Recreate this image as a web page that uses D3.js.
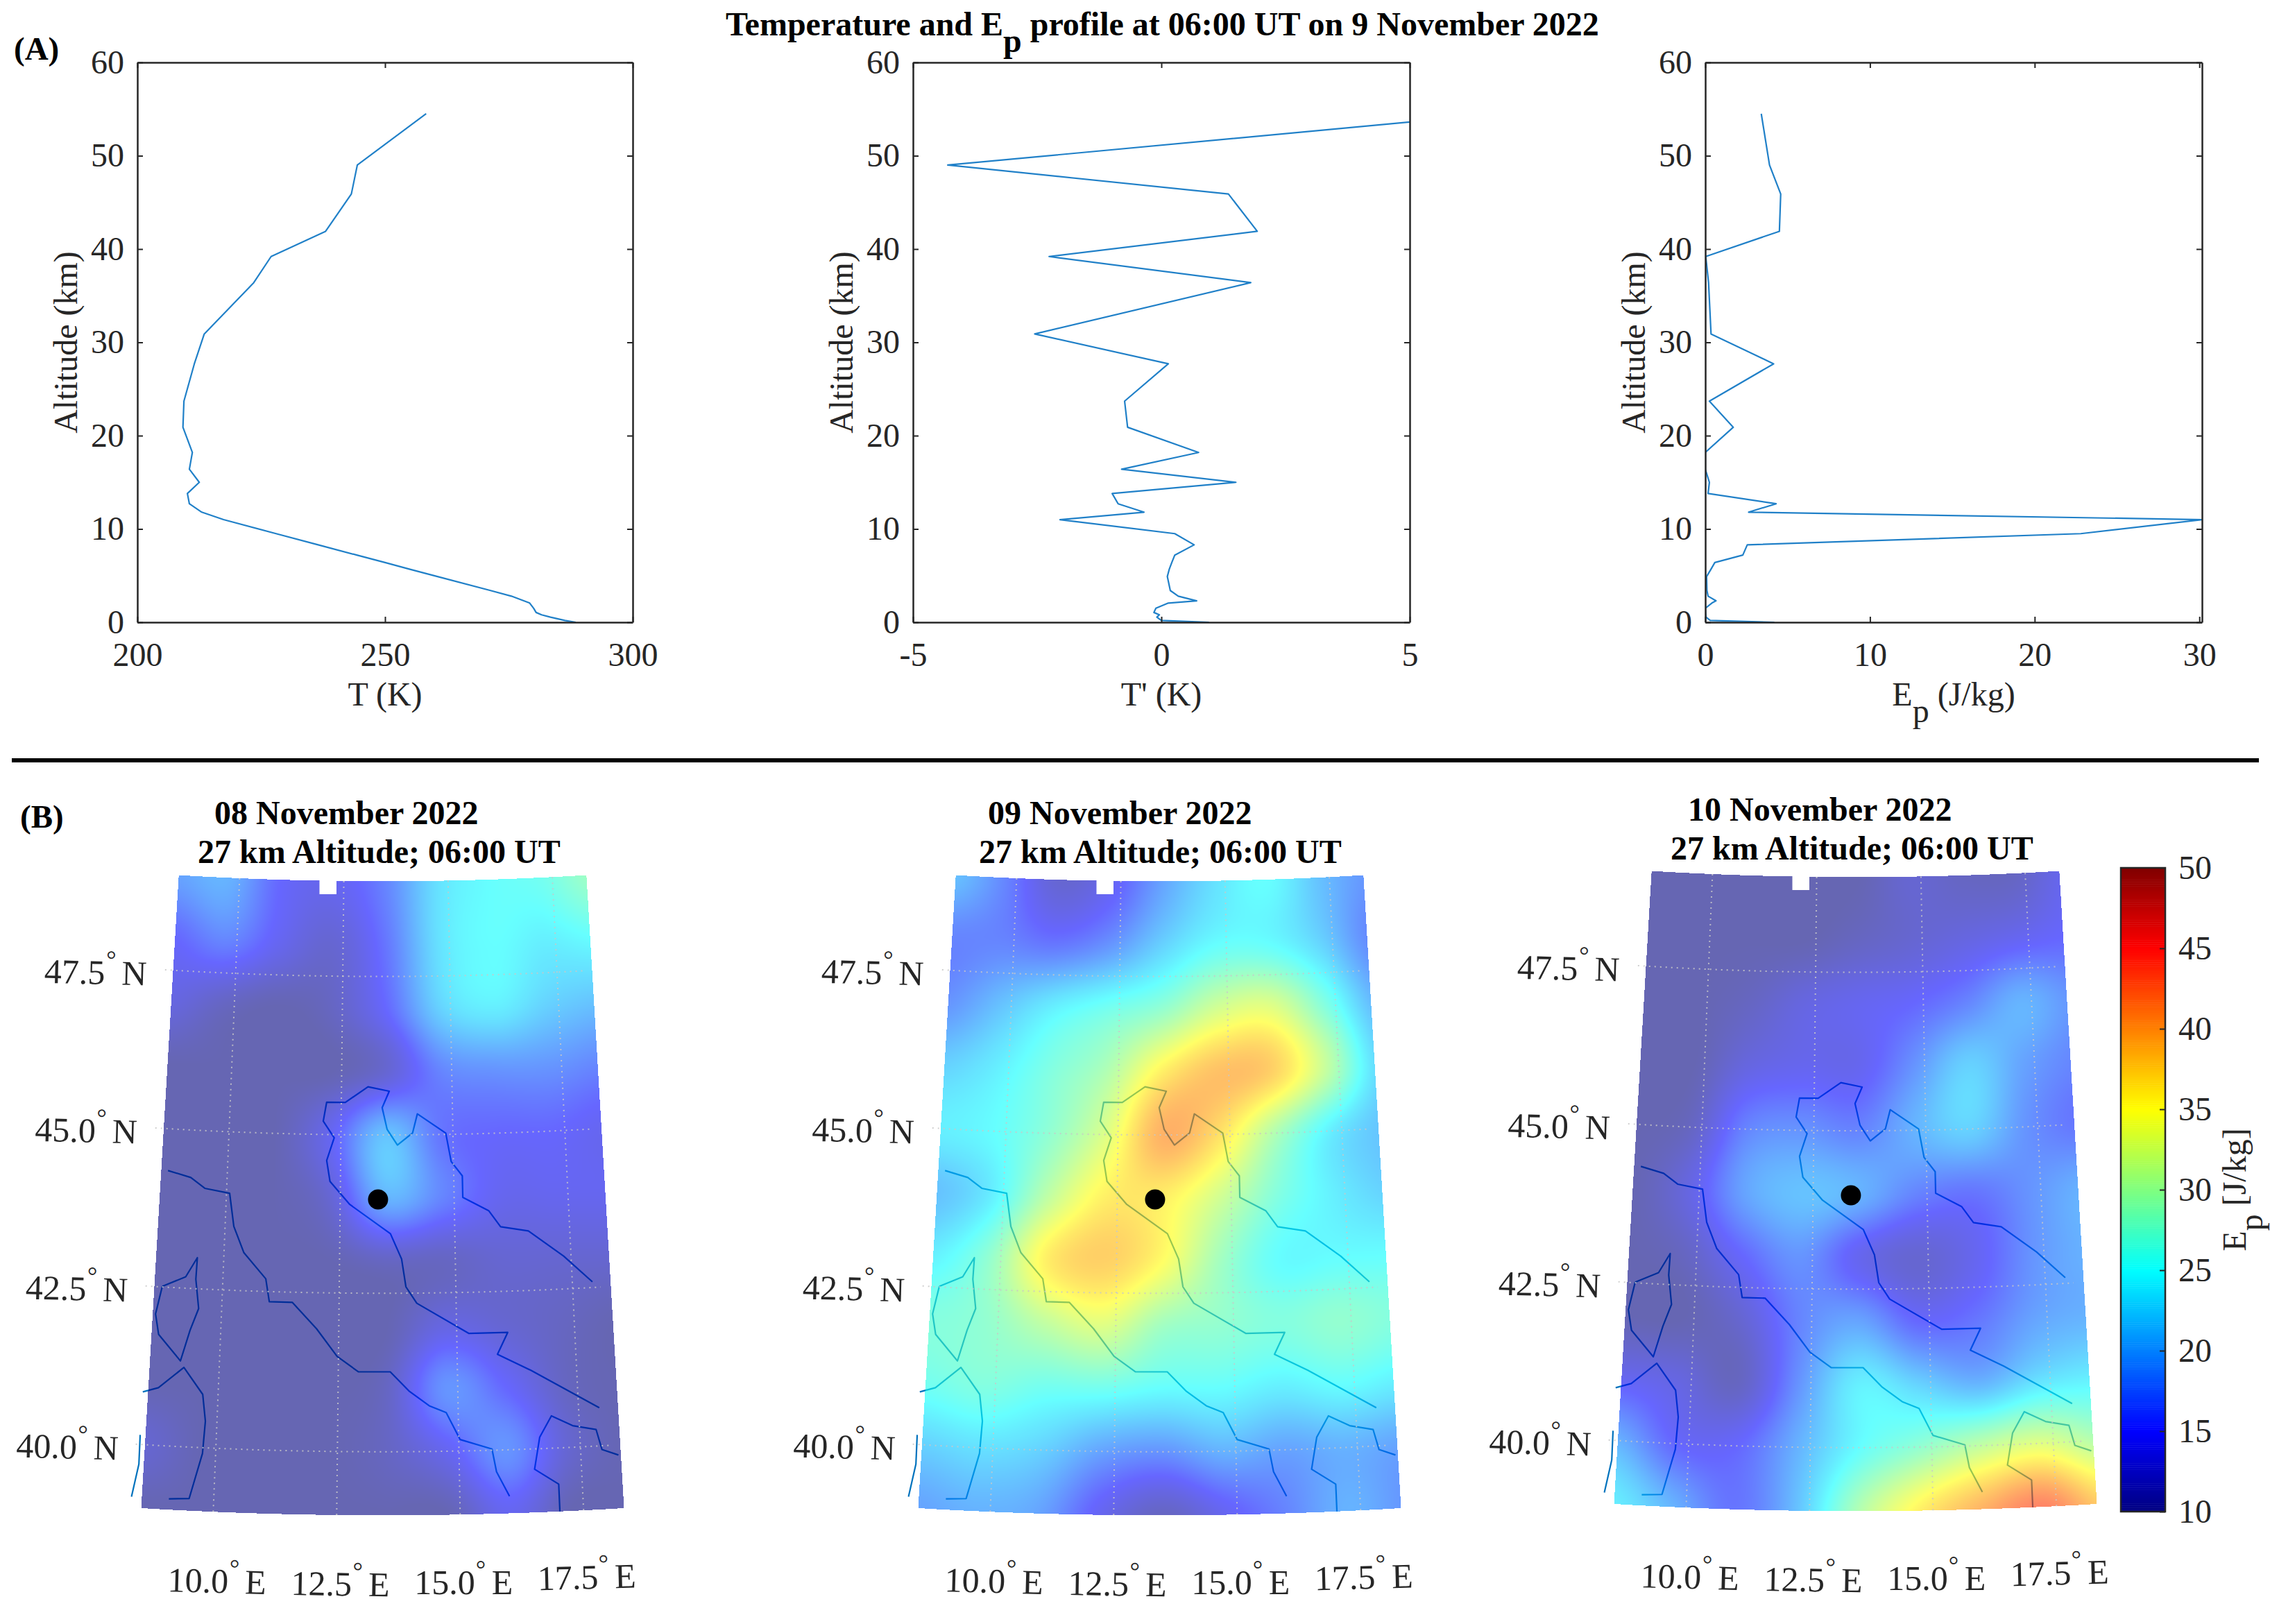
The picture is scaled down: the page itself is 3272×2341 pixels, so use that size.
<!DOCTYPE html>
<html>
<head>
<meta charset="utf-8">
<script src="https://cdn.jsdelivr.net/npm/d3@7"></script>
<style>
  body { margin: 0; background: #fff; }
  text { font-family: "Liberation Serif", serif; fill: #262626; }
</style>
</head>
<body>
<div id="chart"></div>
<script>
// profile data, all three panels share the altitude levels
var altitude = [0, 0.2, 0.55, 0.8, 1.05, 1.5, 2.06, 2.3, 2.8, 3.4, 4.9, 5.7, 6.4, 7.2, 8.3, 9.5, 11, 11.8, 12.7, 13.8, 15, 16.4, 18.2, 20.9, 23.7, 27.7, 30.9, 36.4, 39.2, 41.9, 45.9, 49, 54.5];
var temperature = [288.5, 286.3, 283.4, 281.6, 280.5, 280, 279.2, 278, 275.5, 271.3, 260.6, 254.9, 250, 244.3, 236.5, 228, 217.4, 213, 210.5, 210.1, 212.5, 210.5, 211.1, 209.2, 209.4, 211.5, 213.5, 223.5, 227, 238, 243.2, 244.4, 258.3];
var tPrime = [0.96, 0, -0.09, -0.04, -0.15, -0.11, 0.14, 0.71, 0.34, 0.18, 0.12, 0.16, 0.21, 0.27, 0.66, 0.27, -2.04, -0.35, -0.87, -0.99, 1.5, -0.8, 0.75, -0.68, -0.74, 0.14, -2.55, 1.8, -2.26, 1.93, 1.35, -4.3, 6.8];
var epProfile = [4.2, 0.3, 0.05, 0.03, 0.02, 0, 0.4, 0.65, 0.17, 0.1, 0.08, 0.35, 0.58, 2.28, 2.55, 22.8, 30.2, 2.63, 4.3, 0.17, 0.25, 0, 0, 1.7, 0.25, 4.15, 0.35, 0.2, 0.03, 4.5, 4.58, 3.9, 3.4];

var altTicks = [0, 10, 20, 30, 40, 50, 60];
var tTicks = [200, 250, 300];
var tPrimeTicks = [-5, 0, 5];
var epTicks = [0, 10, 20, 30];
var cbarTicks = [10, 15, 20, 25, 30, 35, 40, 45, 50];

// Ep maps at 27 km, rows go from 49N to 39N, columns from 8.5E to 18.5E
var gridLons = [8.5, 9.75, 11, 12.25, 13.5, 14.75, 16, 17.25, 18.5];
var gridLats = [49, 48, 47, 46, 45, 44, 43, 42, 41, 40, 39];
var ep08 = [
  [19, 20, 15, 14, 17, 23, 25, 26, 29],
  [15, 17, 14, 12, 16, 23, 25, 24, 25],
  [13, 11, 10, 11, 15, 22, 24, 22, 21],
  [10, 10, 10, 10, 12, 17, 18, 18, 17],
  [10, 10, 10, 14, 21, 16, 15, 15, 14],
  [10, 10, 10, 12, 20, 17, 14, 14, 14],
  [10, 10, 10, 10, 11, 11, 12, 12, 12],
  [10, 10, 10, 10, 10, 13, 12, 11, 10],
  [10, 10, 10, 10, 11, 18, 15, 11, 10],
  [12, 10, 10, 10, 11, 14, 18, 12, 10],
  [10, 10, 10, 10, 10, 10, 14, 10, 10]
];
var ep09 = [
  [21, 17, 12, 14, 19, 23, 25, 21, 18],
  [17, 17, 16, 18, 22, 25, 25, 22, 17],
  [18, 21, 24, 26, 28, 32, 33, 27, 20],
  [22, 24, 27, 30, 36, 39, 38, 31, 22],
  [24, 25, 28, 33, 40, 37, 30, 24, 21],
  [21, 24, 31, 36, 36, 32, 27, 24, 22],
  [24, 28, 36, 38, 35, 29, 25, 25, 25],
  [27, 28, 31, 33, 29, 28, 27, 28, 27],
  [26, 27, 26, 26, 25, 25, 24, 25, 24],
  [22, 23, 22, 19, 18, 20, 19, 20, 19],
  [19, 20, 19, 14, 11, 14, 17, 20, 18]
];
var ep10 = [
  [10, 10, 10, 10, 10, 12, 11, 11, 14],
  [10, 10, 10, 10, 11, 12, 13, 14, 15],
  [10, 10, 11, 13, 14, 15, 17, 20, 18],
  [10, 10, 13, 14, 14, 18, 22, 19, 17],
  [10, 11, 17, 18, 17, 20, 22, 18, 16],
  [10, 13, 19, 21, 20, 17, 16, 18, 20],
  [10, 11, 15, 18, 14, 12, 14, 18, 20],
  [10, 10, 12, 17, 19, 15, 16, 19, 20],
  [14, 13, 11, 18, 24, 22, 20, 23, 24],
  [20, 15, 15, 20, 25, 28, 31, 33, 30],
  [24, 20, 16, 21, 30, 36, 40, 43, 38]
];

// coastlines as lon, lat
var coastWest = [[8.69, 44.34], [9.2, 44.25], [9.52, 44.09], [10.07, 44.03], [10.19, 43.51], [10.43, 43.1], [10.92, 42.7], [11.01, 42.34], [11.5, 42.34], [12.03, 41.93], [12.47, 41.5], [12.92, 41.26], [13.59, 41.26], [13.99, 40.95], [14.4, 40.72], [14.75, 40.61], [15.03, 40.18], [15.68, 40.02], [15.76, 39.66], [16.01, 39.27]];
var coastAdriatic = [[17.93, 42.59], [17.34, 43.02], [16.6, 43.44], [16, 43.52], [15.75, 43.78], [15.19, 44], [15.19, 44.34], [14.95, 44.57], [14.84, 45.02], [14.21, 45.33], [14.1, 45.03], [13.76, 44.84], [13.53, 45.09], [13.42, 45.43], [13.58, 45.69], [13.1, 45.76], [12.59, 45.51], [12.17, 45.51], [12.1, 45.21], [12.35, 44.95], [12.19, 44.59], [12.27, 44.26], [12.71, 43.9], [13.6, 43.44], [13.84, 43.04], [13.93, 42.6], [14.16, 42.34], [15.26, 41.85], [16.08, 41.85], [15.85, 41.51], [16.54, 41.24], [17.93, 40.6]];
var corsica = [[8.71, 42.51], [9.2, 42.68], [9.43, 42.99], [9.42, 42.65], [9.51, 42.19], [9.35, 41.84], [9.18, 41.35], [8.69, 41.75], [8.6, 42.07], [8.71, 42.51]];
var sardinia = [[8.43, 40.83], [8.75, 40.91], [9.26, 41.25], [9.68, 40.84], [9.76, 40.42], [9.73, 39.91], [9.5, 39.19], [9.09, 39.17]];
var westSliver = [[8.43, 40.15], [8.44, 39.69], [8.33, 39.17]];
var coastSouth = [[17.02, 39], [17.02, 39.43], [16.54, 39.68], [16.67, 40.18], [16.93, 40.51], [17.36, 40.34], [17.84, 40.26], [17.94, 39.94], [18.27, 39.84]];
var coasts = [coastWest, coastAdriatic, corsica, sardinia, westSliver, coastSouth];

var site = [13.33, 43.98];
var gridLonLines = [10, 12.5, 15, 17.5];
var gridLatLines = [47.5, 45, 42.5, 40];

var mapTitles = ["08 November 2022", "09 November 2022", "10 November 2022"];
var mapSub = "27 km Altitude; 06:00 UT";
var mapData = [ep08, ep09, ep10];

var W = 3272, H = 2341;
var ink = "#262626", lineBlue = "#2080c8";
var fs = 48;

var svg = d3.select("#chart").append("svg").attr("width", W).attr("height", H)
  .style("display", "block");

// -------- panel A ---------
var top_ = 90, bottom_ = 897;
var yAlt = d3.scaleLinear().domain([0, 60]).range([bottom_, top_]);

function drawProfile(left, right, domain, ticks, values, id) {
  var x = d3.scaleLinear().domain(domain).range([left, right]);
  var g = svg.append("g");

  g.append("clipPath").attr("id", id).append("rect")
    .attr("x", left).attr("y", top_).attr("width", right - left).attr("height", bottom_ - top_);

  var line = d3.line().x(d => x(d[0])).y(d => yAlt(d[1]));
  g.append("path").datum(values.map((v, i) => [v, altitude[i]]))
    .attr("clip-path", "url(#" + id + ")")
    .attr("d", line).attr("fill", "none")
    .attr("stroke", lineBlue).attr("stroke-width", 2.2).attr("stroke-linejoin", "round");

  var axL = d3.axisLeft(yAlt).tickValues(altTicks).tickSizeInner(-8).tickSizeOuter(0).tickPadding(19).tickFormat(String);
  var axB = d3.axisBottom(x).tickValues(ticks).tickSizeInner(-8).tickSizeOuter(0).tickPadding(29).tickFormat(String);
  var axR = d3.axisRight(yAlt).tickValues(altTicks).tickSizeInner(-8).tickSizeOuter(0).tickFormat("");
  var axT = d3.axisTop(x).tickValues(ticks).tickSizeInner(-8).tickSizeOuter(0).tickFormat("");

  g.append("g").attr("transform", "translate(" + left + ",0)").call(axL);
  g.append("g").attr("transform", "translate(0," + bottom_ + ")").call(axB);
  g.append("g").attr("transform", "translate(" + right + ",0)").call(axR);
  g.append("g").attr("transform", "translate(0," + top_ + ")").call(axT);
  g.selectAll(".domain").attr("stroke", ink).attr("stroke-width", 2.5);
  g.selectAll(".tick line").attr("stroke", ink).attr("stroke-width", 2);
  g.selectAll(".tick text").attr("font-size", fs).attr("font-family", "Liberation Serif").attr("fill", ink);

  g.append("text").attr("transform", "translate(" + (left - 87) + "," + ((top_ + bottom_) / 2) + ") rotate(-90)")
    .attr("text-anchor", "middle").attr("font-size", fs).text("Altitude (km)");
  return g;
}

var p1 = drawProfile(198, 912, [200, 300], tTicks, temperature, "clipT");
var p2 = drawProfile(1316, 2032, [-5, 5], tPrimeTicks, tPrime, "clipTp");
var p3 = drawProfile(2458, 3174, [0, 30.16], epTicks, epProfile, "clipEp");

p1.append("text").attr("x", 555).attr("y", 1017).attr("text-anchor", "middle").attr("font-size", fs).text("T (K)");
p2.append("text").attr("x", 1674).attr("y", 1017).attr("text-anchor", "middle").attr("font-size", fs).text("T' (K)");

function epLabel(sel) {
  sel.append("tspan").text("E");
  sel.append("tspan").attr("dy", 24).text("p");
  sel.append("tspan").attr("dy", -24);
}
var epx = p3.append("text").attr("x", 2816).attr("y", 1017).attr("text-anchor", "middle").attr("font-size", fs);
epLabel(epx);
epx.select("tspan:last-child").text(" (J/kg)");

var title = svg.append("text").attr("x", 1046).attr("y", 51).attr("font-size", 48)
  .attr("font-weight", "bold").style("fill", "#000");
title.append("tspan").text("Temperature and E");
title.append("tspan").attr("dy", 24).text("p");
title.append("tspan").attr("dy", -24).text(" profile at 06:00 UT on 9 November 2022");

svg.append("text").attr("x", 20).attr("y", 86).attr("font-size", 47).attr("font-weight", "bold").style("fill", "#000").text("(A)");

svg.append("rect").attr("x", 17).attr("y", 1093).attr("width", 3239).attr("height", 6).attr("fill", "#000");

svg.append("text").attr("x", 29).attr("y", 1193).attr("font-size", 47).attr("font-weight", "bold").style("fill", "#000").text("(B)");

// -------- panel B ---------
var jetStops = [10, 15, 25, 35, 45, 50];
var jetColors = ["#000080", "#0000ff", "#00ffff", "#ffff00", "#ff0000", "#800000"];
var jet = d3.scaleLinear().domain(jetStops).range(jetColors).clamp(true);

var jetLut = d3.range(1024).map(function (i) {
  return d3.rgb(jet(10 + 40 * i / 1023));
});

function catmull(a, b, c, d, t) {
  return 0.5 * (2 * b + (c - a) * t + (2 * a - 5 * b + 4 * c - d) * t * t + (3 * b - a - 3 * c + d) * t * t * t);
}
function sampleGrid(grid, lon, lat) {
  var fx = (lon - gridLons[0]) / (gridLons[1] - gridLons[0]);
  var fy = (gridLats[0] - lat) / (gridLats[0] - gridLats[1]);
  var nx = gridLons.length, ny = gridLats.length;
  var ix = Math.max(0, Math.min(nx - 2, Math.floor(fx)));
  var iy = Math.max(0, Math.min(ny - 2, Math.floor(fy)));
  var col = [];
  for (var m = -1; m <= 2; m++) {
    var row = grid[Math.max(0, Math.min(ny - 1, iy + m))];
    col.push(catmull(row[Math.max(0, ix - 1)], row[ix], row[ix + 1], row[Math.min(nx - 1, ix + 2)], fx - ix));
  }
  return catmull(col[0], col[1], col[2], col[3], fy - iy);
}

var lonMin = 8.54, lonMax = 18.32, latMin = 39, latMax = 49;
var cbarScale = d3.scaleLinear().domain([10, 50]).range([2179, 1251]);

function drawMap(index, dx, dy) {
  var grid = mapData[index];
  var proj = d3.geoConicConformal().parallels([40, 48]).rotate([-13.43, 0]).scale(5243).translate([0, 0]);
  var c = proj([13.43, 45]);
  proj.translate([551.5 + dx - c[0], 1636 + dy - c[1]]);

  var g = svg.append("g");
  var pathLine = d3.line().x(d => proj(d)[0]).y(d => proj(d)[1]);

  // coast goes under the see-through field
  coasts.forEach(function (coast) {
    g.append("path").datum(coast).attr("d", pathLine).attr("fill", "none")
      .attr("stroke", "#0072bd").attr("stroke-width", 2.2).attr("stroke-linejoin", "round");
  });

  // field, pixel by pixel through the projection and the jet scale
  var bx = 185 + dx, by = 1250 + dy, bw = 735, bh = 945;
  var canvas = document.createElement("canvas");
  canvas.width = bw; canvas.height = bh;
  var ctx = canvas.getContext("2d");
  var img = ctx.createImageData(bw, bh);
  for (var py = 0; py < bh; py++) {
    for (var px = 0; px < bw; px++) {
      var ll = proj.invert([bx + px + 0.5, by + py + 0.5]);
      if (ll[0] < lonMin || ll[0] > lonMax || ll[1] < latMin || ll[1] > latMax) continue;
      var v = sampleGrid(grid, ll[0], ll[1]);
      var k = Math.max(0, Math.min(1023, Math.round((v - 10) / 40 * 1023)));
      var col = jetLut[k], o = (py * bw + px) * 4;
      img.data[o] = col.r; img.data[o + 1] = col.g; img.data[o + 2] = col.b; img.data[o + 3] = 153;
    }
  }
  ctx.putImageData(img, 0, 0);
  g.append("image").attr("x", bx).attr("y", by).attr("width", bw).attr("height", bh)
    .attr("href", canvas.toDataURL());

  // grid
  gridLatLines.forEach(function (lat) {
    var pts = d3.range(8.35, lonMax + 0.01, 0.25).map(lon => [lon, lat]);
    g.append("path").datum(pts).attr("d", pathLine).attr("fill", "none")
      .attr("stroke", "#c8c8c8").attr("stroke-opacity", 0.85).attr("stroke-width", 2).attr("stroke-dasharray", "2 6");
  });
  gridLonLines.forEach(function (lon) {
    var pts = d3.range(latMin, latMax + 0.01, 0.5).map(lat => [lon, lat]);
    g.append("path").datum(pts).attr("d", pathLine).attr("fill", "none")
      .attr("stroke", "#c8c8c8").attr("stroke-opacity", 0.85).attr("stroke-width", 2).attr("stroke-dasharray", "2 6");
  });

  // notch at the top edge
  g.append("rect").attr("x", 460.5 + dx).attr("y", 1262 + dy).attr("width", 24.5).attr("height", 27).attr("fill", "#fff");

  var dot = proj(site);
  g.append("circle").attr("cx", dot[0]).attr("cy", dot[1]).attr("r", 14.5).attr("fill", "#000");

  // tick labels around the map
  gridLatLines.forEach(function (lat) {
    var p = proj([lonMin, lat]);
    var t = g.append("text").attr("font-size", 50)
      .attr("transform", "translate(" + (p[0] - 186) + "," + (p[1] + 18) + ") rotate(1.5)");
    t.append("tspan").text(lat.toFixed(1));
    t.append("tspan").attr("dy", -24).attr("dx", 1).attr("font-size", 36).text("°");
    t.append("tspan").attr("dy", 24).attr("dx", -4).text(" N");
  });
  gridLonLines.forEach(function (lon, i) {
    var p = proj([lon, latMin]);
    var rot = [1.5, 1, 0, -1.5][i];
    var t = g.append("text").attr("font-size", 50)
      .attr("transform", "translate(" + (p[0] - 66) + "," + (p[1] + 115) + ") rotate(" + rot + ")");
    t.append("tspan").text(lon.toFixed(1));
    t.append("tspan").attr("dy", -24).attr("dx", 1).attr("font-size", 36).text("°");
    t.append("tspan").attr("dy", 24).attr("dx", -4).text(" E");
  });
}

drawMap(0, 0, 0);
drawMap(1, 1120, 0);
drawMap(2, 2123, -6);

var titlePos = [[309, 285, 1188, 1244], [1424, 1411, 1188, 1244], [2433, 2408, 1183, 1239]];
mapTitles.forEach(function (s, i) {
  var tp = titlePos[i];
  svg.append("text").attr("x", tp[0]).attr("y", tp[2]).attr("font-size", 48).attr("font-weight", "bold").style("fill", "#000").text(s);
  svg.append("text").attr("x", tp[1]).attr("y", tp[3]).attr("font-size", 48).attr("font-weight", "bold").style("fill", "#000").text(mapSub);
});

// -------- colorbar ---------
var cbarSteps = d3.range(10, 50, 0.125);
svg.append("g").selectAll("rect").data(cbarSteps).join("rect")
  .attr("x", 3057).attr("width", 64)
  .attr("y", d => cbarScale(d + 0.125)).attr("height", d => cbarScale(d) - cbarScale(d + 0.125) + 0.5)
  .attr("fill", d => jet(d + 0.0625));
svg.append("rect").attr("x", 3057).attr("y", 1251).attr("width", 64).attr("height", 928)
  .attr("fill", "none").attr("stroke", ink).attr("stroke-width", 2.5);
var cbarAxis = d3.axisRight(cbarScale).tickValues(cbarTicks).tickSizeInner(-8).tickSizeOuter(0).tickPadding(19).tickFormat(String);
var cg = svg.append("g").attr("transform", "translate(3121,0)").call(cbarAxis);
cg.select(".domain").remove();
cg.selectAll(".tick line").attr("stroke", ink).attr("stroke-width", 2);
cg.selectAll(".tick text").attr("font-size", fs).attr("font-family", "Liberation Serif").attr("fill", ink);

var cbLabel = svg.append("text").attr("transform", "translate(3237,1715) rotate(-90)")
  .attr("text-anchor", "middle").attr("font-size", fs);
epLabel(cbLabel);
cbLabel.select("tspan:last-child").text(" [J/kg]");
</script>
</body>
</html>
